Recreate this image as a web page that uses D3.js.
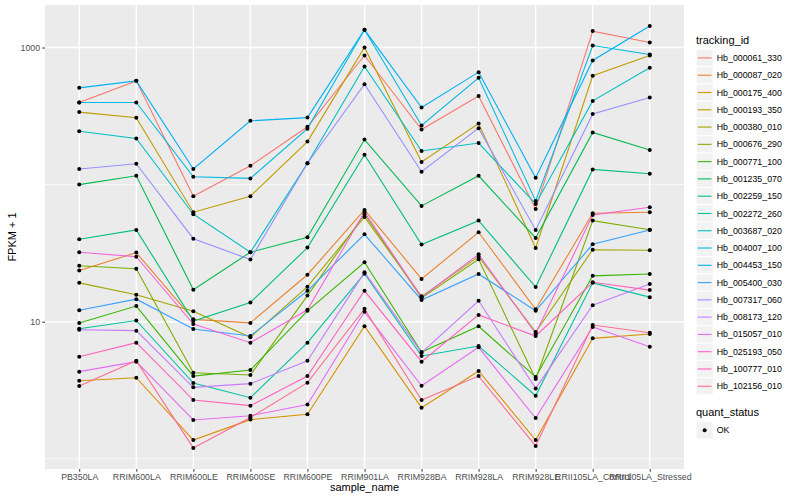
<!DOCTYPE html>
<html>
<head>
<meta charset="utf-8">
<script src="https://cdn.jsdelivr.net/npm/d3@7"></script>
<style>
body { margin: 0; background: #fff; }
text { font-family: "Liberation Sans", Arial, sans-serif; }
</style>
</head>
<body>
<div id="chart"></div>
<script>
const width = 800
const height = 500
const margin = {top: 5, right: 116, bottom: 31, left: 45}

const samples = ["PB350LA", "RRIM600LA", "RRIM600LE", "RRIM600SE", "RRIM600PE", "RRIM901LA",
    "RRIM928BA", "RRIM928LA", "RRIM928LE", "RRII105LA_Control", "RRII105LA_Stressed"]

const trackingIds = ["Hb_000061_330", "Hb_000087_020", "Hb_000175_400", "Hb_000193_350", "Hb_000380_010",
    "Hb_000676_290", "Hb_000771_100", "Hb_001235_070", "Hb_002259_150", "Hb_002272_260",
    "Hb_003687_020", "Hb_004007_100", "Hb_004453_150", "Hb_005400_030", "Hb_007317_060",
    "Hb_008173_120", "Hb_015057_010", "Hb_025193_050", "Hb_100777_010", "Hb_102156_010"]

// FPKM + 1, one array per tracking_id, in sample order
const hb_000061_330 = [397, 571, 82.3, 137, 264, 874, 252, 442, 66.5, 1317, 1088]
const hb_000087_020 = [23.6, 31.9, 10.4, 9.8, 22.0, 65.4, 20.5, 44.9, 12.3, 61.8, 62.9]
const hb_000175_400 = [3.71, 3.90, 1.37, 1.93, 2.11, 9.26, 2.36, 4.37, 1.37, 7.56, 8.13]
const hb_000193_350 = [338, 307, 62.9, 82.3, 206, 1000, 146, 279, 34.5, 622, 874]
const hb_000380_010 = [19.2, 15.7, 11.9, 7.69, 18.0, 58.1, 15.3, 29.8, 8.41, 33.5, 33.2]
const hb_000676_290 = [25.6, 24.3, 4.24, 4.08, 15.5, 61.1, 14.9, 28.5, 3.82, 54.6, 46.9]
const hb_000771_100 = [9.78, 13.0, 4.01, 4.44, 12.0, 27.1, 6.01, 9.26, 3.95, 21.6, 22.3]
const hb_001235_070 = [100, 116, 17.1, 32.1, 41.3, 213, 69.9, 116, 40.8, 240, 179]
const hb_002259_150 = [39.9, 46.7, 10.1, 13.8, 34.7, 165, 36.5, 54.6, 17.9, 129, 120]
const hb_002272_260 = [8.89, 10.2, 3.57, 2.79, 7.03, 22.4, 5.62, 6.65, 2.88, 19.2, 15.1]
const hb_003687_020 = [245, 217, 60.8, 32.1, 143, 727, 176, 201, 72.3, 408, 711]
const hb_004007_100 = [397, 397, 114, 111, 256, 1346, 270, 601, 76.0, 1034, 889]
const hb_004453_150 = [508, 571, 130, 292, 308, 1346, 365, 661, 112, 804, 1433]
const hb_005400_030 = [12.1, 14.6, 8.84, 7.86, 16.8, 43.4, 14.4, 22.3, 12.0, 36.7, 46.7]
const hb_007317_060 = [130, 142, 40.3, 28.4, 143, 540, 124, 258, 46.7, 327, 432]
const hb_008173_120 = [8.74, 8.60, 3.32, 3.53, 5.19, 22.9, 5.94, 14.2, 3.26, 13.2, 18.8]
const hb_015057_010 = [4.32, 5.11, 1.92, 2.06, 2.49, 11.8, 3.41, 6.50, 1.98, 9.15, 6.57]
const hb_025193_050 = [32.1, 29.8, 9.62, 7.03, 12.2, 63.2, 15.1, 31.0, 8.20, 60.1, 68.4]
const hb_100777_010 = [5.55, 7.03, 2.68, 2.44, 4.01, 16.8, 5.11, 11.2, 7.86, 19.4, 17.0]
const hb_102156_010 = [3.39, 5.19, 1.20, 2.00, 3.59, 12.4, 2.68, 4.01, 1.24, 9.46, 8.31]

const seriesValues = [hb_000061_330, hb_000087_020, hb_000175_400, hb_000193_350, hb_000380_010,
    hb_000676_290, hb_000771_100, hb_001235_070, hb_002259_150, hb_002272_260,
    hb_003687_020, hb_004007_100, hb_004453_150, hb_005400_030, hb_007317_060,
    hb_008173_120, hb_015057_010, hb_025193_050, hb_100777_010, hb_102156_010]

const quantStatus = ["OK"]
const yTicks = [10, 1000]
const yMinorTicks = [1, 100]

// ggplot default hue palette for 20 levels
const palette = ["#F8766D", "#EA8331", "#D89000", "#C09B00", "#A3A500", "#7CAE00", "#39B600",
    "#00BB4E", "#00BF7D", "#00C1A3", "#00BFC4", "#00BAE0", "#00B0F6", "#35A2FF", "#9590FF",
    "#C77CFF", "#E76BF3", "#FA62DB", "#FF62BC", "#FF6C91"]

const data = trackingIds.map((id, i) => ({
    id: id,
    values: samples.map((s, j) => ({sample: s, value: seriesValues[i][j]}))
}))

const innerW = width - margin.left - margin.right
const innerH = height - margin.top - margin.bottom

const svg = d3.select("div#chart").append("svg").attr("width", width).attr("height", height)

const panel = svg.append("g").attr("transform", `translate(${margin.left}, ${margin.top})`)

const x = d3.scalePoint().domain(samples).range([0, innerW]).padding(0.6)

const allValues = seriesValues.flat()
const lo = Math.log10(d3.min(allValues))
const hi = Math.log10(d3.max(allValues))
const pad = (hi - lo) * 0.05
const y = d3.scaleLog().domain([Math.pow(10, lo - pad), Math.pow(10, hi + pad)]).range([innerH, 0])

const color = d3.scaleOrdinal().domain(trackingIds).range(palette)

panel.append("rect").attr("width", innerW).attr("height", innerH).attr("fill", "#EBEBEB")

// grid
panel.selectAll(".minor").data(yMinorTicks).join("line")
    .attr("x1", 0).attr("x2", innerW)
    .attr("y1", d => y(d)).attr("y2", d => y(d))
    .attr("stroke", "#fff").attr("stroke-width", 0.7)
panel.selectAll(".hmajor").data(yTicks).join("line")
    .attr("x1", 0).attr("x2", innerW)
    .attr("y1", d => y(d)).attr("y2", d => y(d))
    .attr("stroke", "#fff").attr("stroke-width", 1.4)
panel.selectAll(".vmajor").data(samples).join("line")
    .attr("x1", d => x(d)).attr("x2", d => x(d))
    .attr("y1", 0).attr("y2", innerH)
    .attr("stroke", "#fff").attr("stroke-width", 1.4)

// lines
const line = d3.line().x(d => x(d.sample)).y(d => y(d.value))
panel.selectAll(".series").data(data).join("path")
    .attr("d", d => line(d.values))
    .attr("fill", "none")
    .attr("stroke", d => color(d.id))
    .attr("stroke-width", 1.1)

// points
panel.selectAll(".pts").data(data.flatMap(d => d.values)).join("circle")
    .attr("cx", d => x(d.sample)).attr("cy", d => y(d.value))
    .attr("r", 2).attr("fill", "#000")

// axes
const xAxis = d3.axisBottom(x).tickSize(2.75).tickPadding(2.2)
const yAxis = d3.axisLeft(y).tickValues(yTicks).tickFormat(d3.format("d")).tickSize(2.75).tickPadding(2.2)

const xAxisGroup = svg.append("g")
    .attr("transform", `translate(${margin.left}, ${margin.top + innerH})`).call(xAxis)
const yAxisGroup = svg.append("g")
    .attr("transform", `translate(${margin.left}, ${margin.top})`).call(yAxis)

for (const g of [xAxisGroup, yAxisGroup]) {
    g.select(".domain").remove()
    g.selectAll(".tick line").attr("stroke", "#333").attr("stroke-width", 1)
    g.selectAll(".tick text").attr("fill", "#4D4D4D").style("font-size", "8.8px")
}

svg.append("text")
    .attr("x", margin.left + innerW / 2).attr("y", 491)
    .attr("text-anchor", "middle").style("font-size", "11px")
    .text("sample_name")

svg.append("text")
    .attr("transform", `translate(16, ${margin.top + innerH / 2}) rotate(-90)`)
    .attr("text-anchor", "middle").style("font-size", "11px")
    .text("FPKM + 1")

// legend: tracking_id
const legend = svg.append("g").attr("transform", "translate(696, 0)")
const keySize = 17.28
const keyTop = 49.3

legend.append("text").attr("x", 0).attr("y", 44).style("font-size", "11px").text("tracking_id")

const keys = legend.selectAll(".key").data(trackingIds).join("g")
    .attr("transform", (d, i) => `translate(0, ${keyTop + i * keySize})`)
keys.append("rect").attr("width", keySize).attr("height", keySize)
    .attr("fill", "#F2F2F2").attr("stroke", "#fff").attr("stroke-width", 1)
keys.append("line").attr("x1", 1.7).attr("x2", keySize - 1.7)
    .attr("y1", keySize / 2).attr("y2", keySize / 2)
    .attr("stroke", d => color(d)).attr("stroke-width", 1.1)
keys.append("text").attr("x", keySize + 3.5).attr("y", keySize / 2).attr("dy", "0.35em")
    .style("font-size", "8.8px").text(d => d)

// legend: quant_status
const qTop = 421.7
legend.append("text").attr("x", 0).attr("y", 416).style("font-size", "11px").text("quant_status")
const qKeys = legend.selectAll(".qkey").data(quantStatus).join("g")
    .attr("transform", (d, i) => `translate(0, ${qTop + i * keySize})`)
qKeys.append("rect").attr("width", keySize).attr("height", keySize)
    .attr("fill", "#F2F2F2").attr("stroke", "#fff").attr("stroke-width", 1)
qKeys.append("circle").attr("cx", keySize / 2).attr("cy", keySize / 2).attr("r", 2).attr("fill", "#000")
qKeys.append("text").attr("x", keySize + 3.5).attr("y", keySize / 2).attr("dy", "0.35em")
    .style("font-size", "8.8px").text(d => d)
</script>
</body>
</html>
